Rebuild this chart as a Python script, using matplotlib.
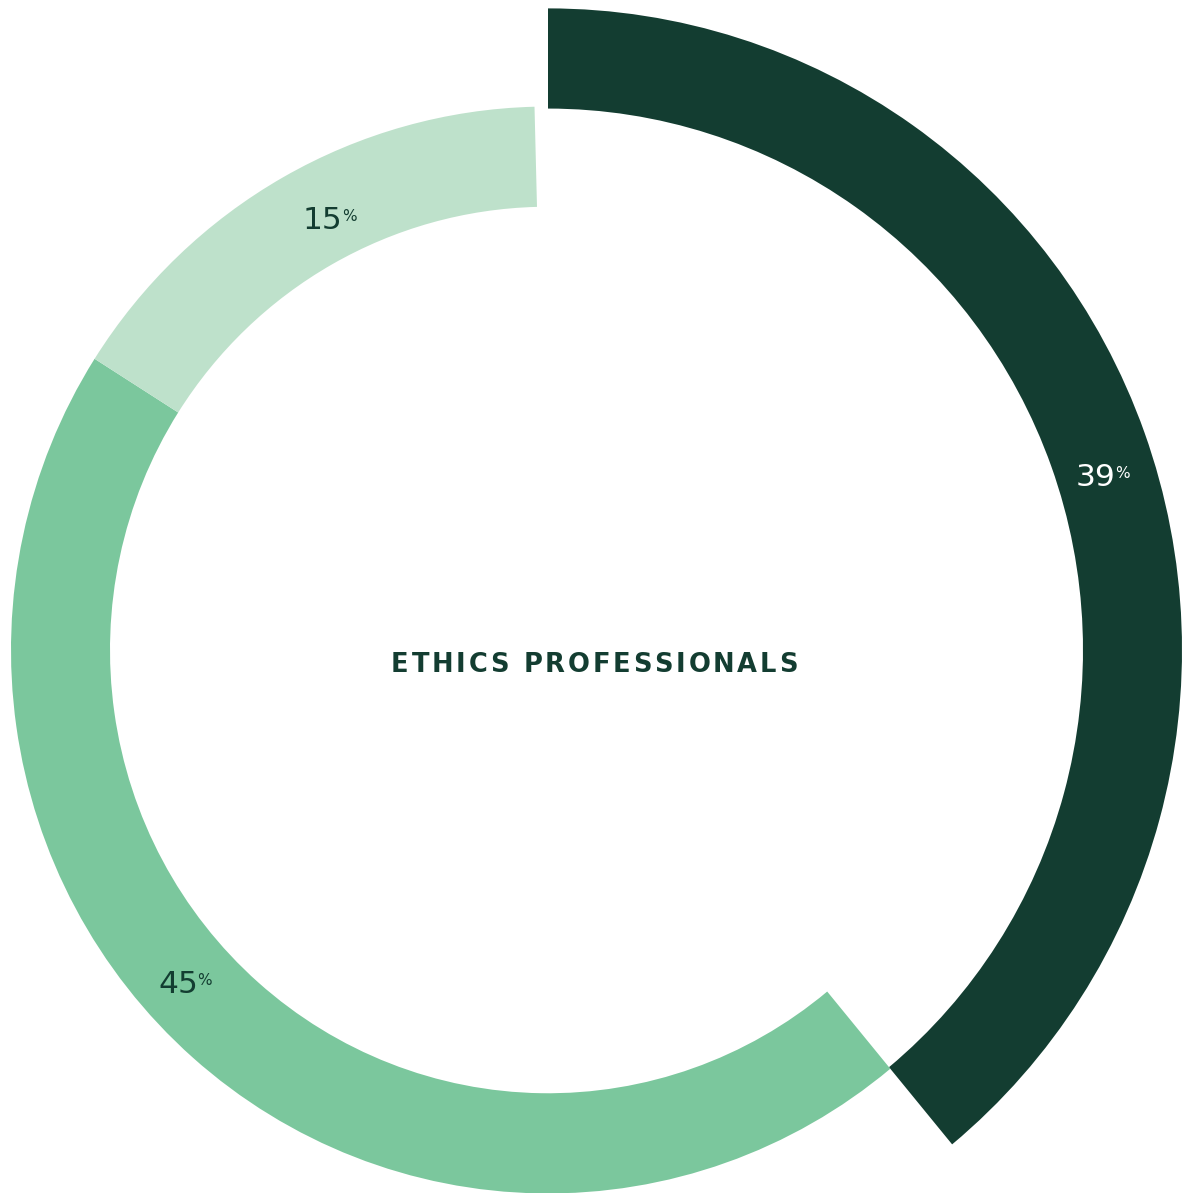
import matplotlib.pyplot as plt
from matplotlib.patches import Wedge

# data
SEGMENTS = ["Dark", "Medium", "Light"]
SHARES = [39, 45, 15.6]          # arc length in percent of a full turn
LABELS = ["39", "45", "15"]      # printed numbers
COLORS = ["#133d31", "#7bc79d", "#bee1cb"]
TEXT_COLORS = ["white", "#133d31", "#133d31"]
TITLE = "ETHICS PROFESSIONALS"

# geometry in image pixels
CX, CY = 548, 650
YS = 1.012                       # source image is slightly stretched vertically
OUTER = [634, 537, 537]
RING = 99
LABEL_POS = [(1076, 486), (158, 993), (303, 229)]
FONT = "DejaVu Sans"


def px(x, y):
    return x - CX, (CY - y) / YS


fig = plt.figure(figsize=(11.82, 11.93), dpi=100)
ax = fig.add_axes([0, 0, 1, 1])
ax.set_xlim(-CX, 1182 - CX)
ax.set_ylim((CY - 1193) / YS, CY / YS)
ax.axis("off")

start = 90.0
for share, r, color in zip(SHARES, OUTER, COLORS):
    end = start - share * 3.6
    ax.add_patch(Wedge((0, 0), r, end, start, width=RING,
                       facecolor=color, edgecolor="none"))
    start = end

for label, pos, tc in zip(LABELS, LABEL_POS, TEXT_COLORS):
    x, y = px(*pos)
    num = ax.text(x, y, label, ha="left", va="baseline", color=tc,
                  fontsize=22.5, family=FONT)
    ax.annotate("%", xy=(1, 1), xycoords=num, xytext=(-0.5, -2.5),
                textcoords="offset points", ha="left", va="top",
                color=tc, fontsize=11, family=FONT)

# letter-spaced title, one glyph after another
x, y = px(391, 672)
prev = ax.text(x, y, TITLE[0], ha="left", va="baseline", color="#133d31",
               fontsize=18.5, family=FONT, weight="bold")
for ch in TITLE[1:]:
    prev = ax.annotate(ch, xy=(1, 0), xycoords=prev, xytext=(2.0, 0),
                       textcoords="offset points", ha="left", va="bottom",
                       color="#133d31", fontsize=18.5, family=FONT,
                       weight="bold")

fig.savefig("out.png", dpi=100)
